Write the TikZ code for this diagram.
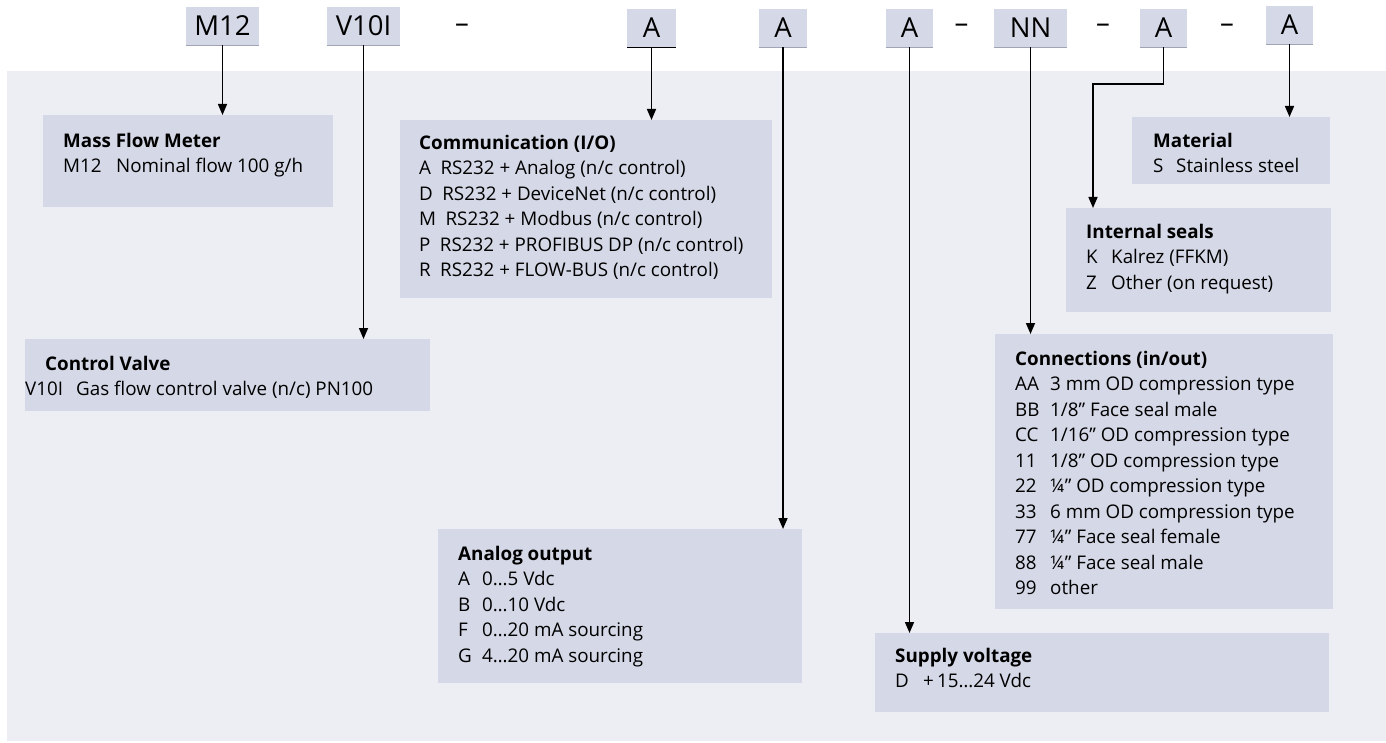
\documentclass[tikz,border=0pt]{standalone}
\usepackage{fontspec}
\setmainfont{Open Sans}
\usetikzlibrary{arrows.meta}
\definecolor{panelgray}{HTML}{EDEEF3}
\definecolor{boxgray}{HTML}{D5D8E6}
\definecolor{rulegray}{HTML}{A0A4B4}
\newcommand{\opt}[2]{\makebox[#1][l]{#2}}
\newcommand{\boxtitle}[1]{\strut\textbf{#1}}

\begin{document}
\begin{tikzpicture}[x=1pt, y=-1pt,
  codebox/.style={fill=boxgray, inner sep=0pt, minimum height=38,
    font=\fontsize{27.5}{30}\selectfont},
  dashsep/.style={anchor=base, inner sep=0pt, font=\fontsize{27.5}{30}\selectfont},
  infobox/.style={fill=boxgray, anchor=north west, inner sep=0pt},
  infotext/.style={anchor=north west, align=left, inner sep=0pt,
    font=\fontsize{18.8}{25.5}\selectfont},
  arr/.style={line width=1.5pt, -{Triangle[width=9pt,length=11pt]}},
  codeline/.style={rulegray, line width=1pt}]

  \useasboundingbox (0,0) rectangle (1386,743);
  \fill[panelgray] (7,71) rectangle (1386,741);

  \node[codebox, minimum width=73] (m12)  at (222.5,26) {M12};
  \node[codebox, minimum width=73] (v10i) at (363.5,26) {V10I};
  \node[codebox, minimum width=49] (a1)   at (651.5,28) {A};
  \node[codebox, minimum width=48] (a2)   at (783,28)   {A};
  \node[codebox, minimum width=47] (a3)   at (909.5,28) {A};
  \node[codebox, minimum width=73] (nn)   at (1030.5,28) {NN};
  \node[codebox, minimum width=47] (a4)   at (1163.5,28) {A};
  \node[codebox, minimum width=47] (a5)   at (1289.5,25) {A};

  \node[dashsep] (dash1) at (462,33)    {–};
  \node[dashsep] (dash2) at (961.5,33)  {–};
  \node[dashsep] (dash3) at (1103,33)   {–};
  \node[dashsep] (dash4) at (1227,33)   {–};

  \foreach \n in {m12,v10i,a2,a3,nn,a4,a5}
    \draw[codeline] (\n.south west) -- (\n.south east);
  \draw[line width=1pt] (a1.south west) -- (a1.south east);

  \node[infobox, minimum width=290, minimum height=92] (mfm) at (43,115) {};
  \node[infotext] (mfmtext) at ([shift={(20,14)}]mfm.north west)
    {\boxtitle{Mass Flow Meter}\\\opt{53pt}{M12}Nominal flow 100 g/h};

  \node[infobox, minimum width=405, minimum height=72] (ctrl) at (25,339) {};
  \node[infotext] (ctrltext) at ([shift={(20,13)}]ctrl.north west)
    {\boxtitle{Control Valve}\\\hspace*{-20pt}\opt{51pt}{V10I}Gas flow control valve (n/c) PN100};

  \node[infobox, minimum width=372, minimum height=178] (comm) at (400,120) {};
  \node[infotext] (commtext) at ([shift={(19,11)}]comm.north west)
    {\boxtitle{Communication (I/O)}\\
     A\enspace RS232 + Analog (n/c control)\\
     D\enspace RS232 + DeviceNet (n/c control)\\
     M\enspace RS232 + Modbus (n/c control)\\
     P\enspace RS232 + PROFIBUS DP (n/c control)\\
     R\enspace RS232 + FLOW-BUS (n/c control)};

  \node[infobox, minimum width=364, minimum height=154] (anout) at (438,529) {};
  \node[infotext] (anouttext) at ([shift={(20,13)}]anout.north west)
    {\boxtitle{Analog output}\\
     \opt{24pt}{A}0…5 Vdc\\
     \opt{24pt}{B}0…10 Vdc\\
     \opt{24pt}{F}0…20 mA sourcing\\
     \opt{24pt}{G}4…20 mA sourcing};

  \node[infobox, minimum width=454, minimum height=79] (supply) at (875,633) {};
  \node[infotext] (supplytext) at ([shift={(20,11)}]supply.north west)
    {\boxtitle{Supply voltage}\\\opt{28pt}{D}+\,15…24 Vdc};

  \node[infobox, minimum width=338, minimum height=275] (conn) at (995,334) {};
  \node[infotext] (conntext) at ([shift={(20,13)}]conn.north west)
    {\boxtitle{Connections (in/out)}\\
     \opt{35pt}{AA}3 mm OD compression type\\
     \opt{35pt}{BB}1/8” Face seal male\\
     \opt{35pt}{CC}1/16” OD compression type\\
     \opt{35pt}{11}1/8” OD compression type\\
     \opt{35pt}{22}¼” OD compression type\\
     \opt{35pt}{33}6 mm OD compression type\\
     \opt{35pt}{77}¼” Face seal female\\
     \opt{35pt}{88}¼” Face seal male\\
     \opt{35pt}{99}other};

  \node[infobox, minimum width=265, minimum height=104] (seals) at (1066,208) {};
  \node[infotext] (sealstext) at ([shift={(20,12)}]seals.north west)
    {\boxtitle{Internal seals}\\
     \opt{25pt}{K}Kalrez (FFKM)\\
     \opt{25pt}{Z}Other (on request)};

  \node[infobox, minimum width=198, minimum height=67] (mat) at (1132,117) {};
  \node[infotext] (mattext) at ([shift={(21,12)}]mat.north west)
    {\boxtitle{Material}\\\opt{23pt}{S}Stainless steel};

  \draw[arr] (m12.south) -- (m12.south |- mfm.north);
  \draw[arr] (v10i.south) -- (v10i.south |- ctrl.north);
  \draw[arr] (a1.south) -- (a1.south |- comm.north);
  \draw[arr] (a2.south) -- (a2.south |- anout.north);
  \draw[arr] (a3.south) -- (a3.south |- supply.north);
  \draw[arr] (nn.south) -- (nn.south |- conn.north);
  \coordinate (sealbend) at (1093,84);
  \draw[arr] (a4.south) |- (sealbend) -- (sealbend |- seals.north);
  \draw[arr] (a5.south) -- (a5.south |- mat.north);
\end{tikzpicture}
\end{document}
